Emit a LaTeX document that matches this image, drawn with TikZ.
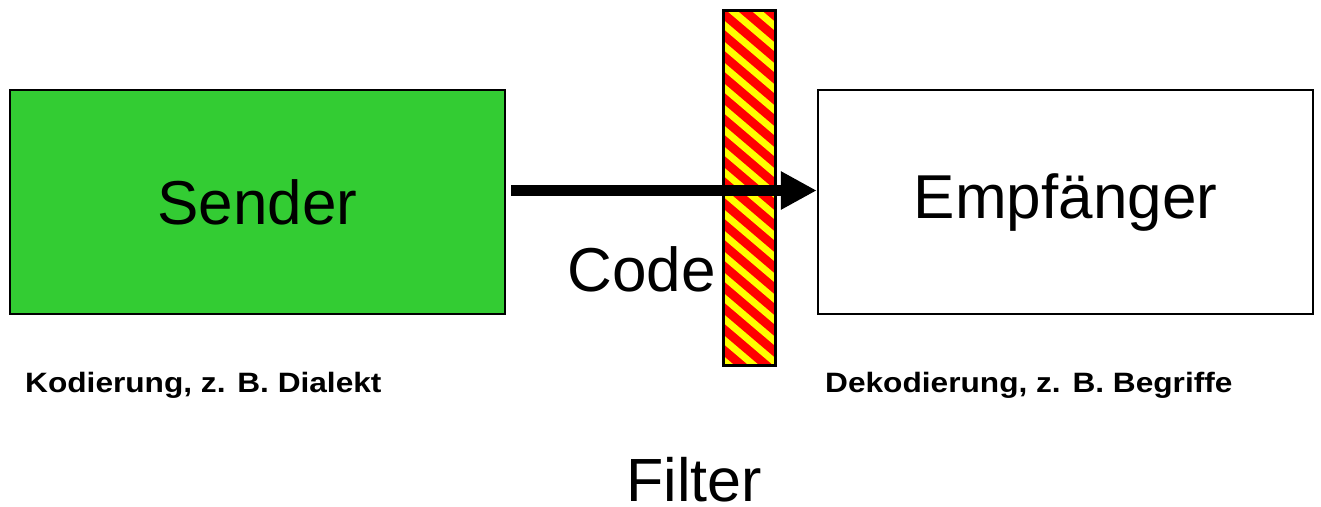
\documentclass[tikz,border=0pt]{standalone}
\usepackage{fontspec}
\setmainfont{Liberation Sans}
\usetikzlibrary{arrows.meta}
\definecolor{sendgreen}{RGB}{51,204,51}
\definecolor{stripered}{RGB}{255,0,0}
\definecolor{stripeyellow}{RGB}{255,255,0}
\tikzset{
  box/.style={draw=black, line width=2.5pt, minimum width=495pt, minimum height=224pt, inner sep=0pt},
  bigtext/.style={font=\fontsize{62}{70}\selectfont},
  smalltext/.style={font=\fontsize{28}{32}\selectfont\bfseries, inner sep=0pt},
  flow/.style={line width=11pt, -{Triangle[length=36pt, width=36pt]}}
}
\newcommand{\widelabel}[1]{\scalebox{1.13}[1]{#1}}
\begin{document}
\begin{tikzpicture}[x=1pt, y=-1pt]
  \useasboundingbox (0,0) rectangle (1321,506);

  % sender and receiver boxes
  \node[box, fill=sendgreen, bigtext] (sender) at (257.5,202) {Sender};
  \node[box, fill=white, bigtext] (receiver) at (1065.5,202) {Empfänger};

  % filter bar with diagonal stripes
  \coordinate (barnw) at (723.5,10.5);
  \coordinate (barse) at (775.5,365.5);
  \begin{scope}
    \clip (barnw) rectangle (barse);
    \fill[stripered] (barnw) rectangle (barse);
    \foreach \k in {-5,...,20} {
      \fill[stripeyellow] (700,{\k*21}) -- (700,{\k*21+9}) -- (800,{\k*21+94}) -- (800,{\k*21+85}) -- cycle;
    }
  \end{scope}
  \draw[line width=3pt] (barnw) rectangle (barse);

  % message flow
  \draw[flow, shorten <=5pt] (sender.east |- 0,190.5) -- (receiver.west |- 0,190.5);

  % labels
  \node[bigtext, anchor=base east, inner sep=0pt] (code) at (716,291.5) {Code};
  \node[smalltext, anchor=base west] (enc) at (25,392) {\widelabel{Kodierung, z. B. Dialekt}};
  \node[smalltext, anchor=base west] (dec) at (825,392) {\widelabel{Dekodierung, z. B. Begriffe}};
  \node[font=\fontsize{61}{70}\selectfont, anchor=base, inner sep=0pt] (filter) at (694,501) {Filter};
\end{tikzpicture}
\end{document}
